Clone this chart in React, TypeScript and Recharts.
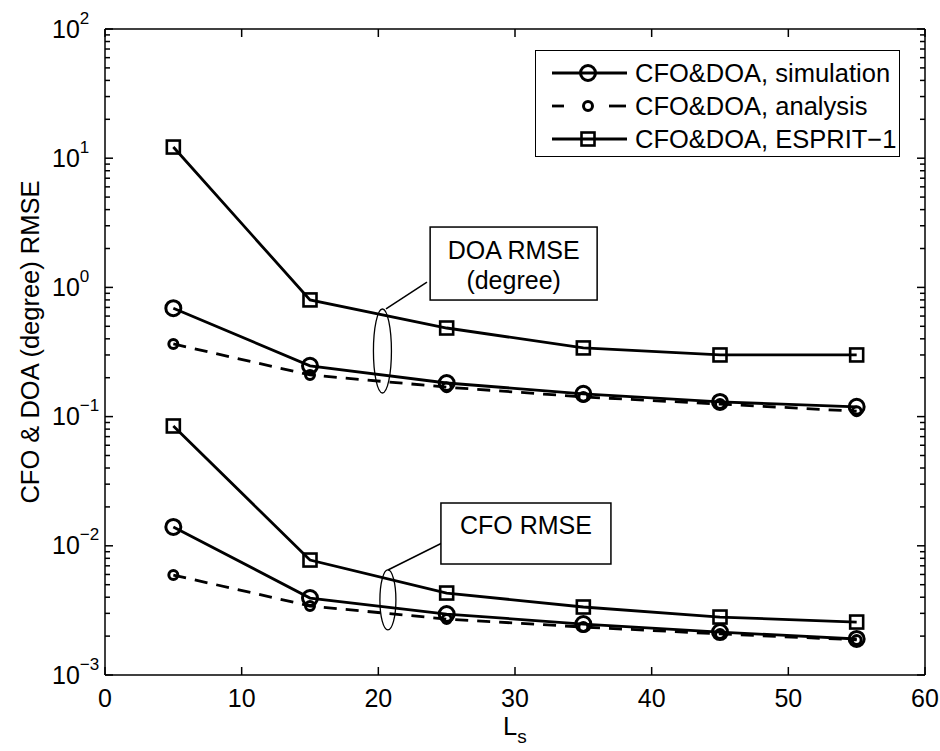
import { LineChart, Line, XAxis, YAxis, ReferenceDot, ReferenceLine } from "recharts";

// L_s values on the x axis
const LS = [5, 15, 25, 35, 45, 55];

// DOA RMSE (degree)
const DOA_SIM = [0.69, 0.247, 0.182, 0.15, 0.13, 0.119];
const DOA_ANA = [0.365, 0.21, 0.169, 0.142, 0.125, 0.11];
const DOA_ESPRIT = [12.2, 0.8, 0.485, 0.34, 0.3, 0.3];

// CFO RMSE
const CFO_SIM = [0.014, 0.00394, 0.00296, 0.00248, 0.00215, 0.0019];
const CFO_ANA = [0.00594, 0.00342, 0.00271, 0.00235, 0.00208, 0.00187];
const CFO_ESPRIT = [0.0846, 0.00776, 0.00431, 0.00336, 0.00281, 0.00257];

const X_TICKS = [0, 10, 20, 30, 40, 50, 60];
const Y_DECADES = [1e-3, 1e-2, 1e-1, 1, 10];
const Y_MINOR = [1, 2, 3, 4, 5, 6, 7, 8, 9];
const Y_TICKS = [...Y_DECADES.flatMap((d) => Y_MINOR.map((m) => d * m)), 100];

const LEGEND_LABELS = [
  "CFO&DOA, simulation",
  "CFO&DOA, analysis",
  "CFO&DOA, ESPRIT-1",
];

const FONT = "'Liberation Sans', Arial, Helvetica, sans-serif";
const INK = "#000";

const data = LS.map((ls, i) => ({
  ls,
  doaSim: DOA_SIM[i],
  doaAna: DOA_ANA[i],
  doaEsprit: DOA_ESPRIT[i],
  cfoSim: CFO_SIM[i],
  cfoAna: CFO_ANA[i],
  cfoEsprit: CFO_ESPRIT[i],
}));

type Marker = "big" | "small" | "square";

const SERIES: { key: string; marker: Marker; dashed: boolean }[] = [
  { key: "doaEsprit", marker: "square", dashed: false },
  { key: "doaAna", marker: "small", dashed: true },
  { key: "doaSim", marker: "big", dashed: false },
  { key: "cfoEsprit", marker: "square", dashed: false },
  { key: "cfoAna", marker: "small", dashed: true },
  { key: "cfoSim", marker: "big", dashed: false },
];

function drawMarker(kind: Marker, cx: number, cy: number, key?: any) {
  if (kind === "square") {
    return (
      <rect key={key} x={cx - 6.5} y={cy - 6.5} width={13} height={13} fill="none" stroke={INK} strokeWidth={2.6} />
    );
  }
  const r = kind === "big" ? 7.5 : 4.5;
  return <circle key={key} cx={cx} cy={cy} r={r} fill="none" stroke={INK} strokeWidth={3} />;
}

function isDecade(v: number) {
  const lg = Math.log10(v);
  return Math.abs(lg - Math.round(lg)) < 1e-6;
}

function YTick(props: any) {
  const { x, y, payload, side } = props;
  const v = payload.value as number;
  const major = isDecade(v);
  const dir = side === "left" ? 1 : -1;
  const len = major ? 8 : 5;
  const exp = Math.round(Math.log10(v));
  return (
    <g>
      <line x1={x} y1={y} x2={x + dir * len} y2={y} stroke={INK} strokeWidth={1.5} />
      {side === "left" && major && (
        <text x={x - 53} y={y + 8.5} fontSize={25} fontFamily={FONT} fill={INK}>
          10
          <tspan dy={-14} fontSize={17}>
            {exp < 0 ? "\u2212" + Math.abs(exp) : String(exp)}
          </tspan>
        </text>
      )}
    </g>
  );
}

function XTick(props: any) {
  const { x, y, payload, side } = props;
  const dir = side === "bottom" ? -1 : 1;
  return (
    <g>
      <line x1={x} y1={y} x2={x} y2={y + dir * 8} stroke={INK} strokeWidth={1.5} />
      {side === "bottom" && (
        <text x={x} y={y + 32} textAnchor="middle" fontSize={25} fontFamily={FONT} fill={INK}>
          {payload.value}
        </text>
      )}
    </g>
  );
}

function Ellipse(rx: number, ry: number) {
  return (p: any) => (
    <ellipse cx={p.cx} cy={p.cy} rx={rx} ry={ry} fill="none" stroke={INK} strokeWidth={1.3} />
  );
}

function NoteBox(w: number, h: number, lines: string[], firstDy: number) {
  return (p: any) => (
    <g>
      <rect x={p.cx - w / 2} y={p.cy - h / 2} width={w} height={h} fill="#fff" stroke={INK} strokeWidth={1.5} />
      {lines.map((t, i) => (
        <text
          key={t}
          x={p.cx}
          y={p.cy + firstDy + i * 30}
          textAnchor="middle"
          fontSize={25}
          fontFamily={FONT}
          fill={INK}
        >
          {t}
        </text>
      ))}
    </g>
  );
}

function Legend() {
  return (
    <div
      style={{
        position: "absolute",
        left: 535,
        top: 50,
        width: 365,
        height: 107,
        border: "1.5px solid #000",
        background: "#fff",
        boxSizing: "border-box",
      }}
    >
      <svg width={362} height={104}>
        {(["big", "small", "square"] as Marker[]).map((m, i) => {
          const cy = 22 + i * 33;
          return (
            <g key={m}>
              {m === "small" ? (
                <>
                  <line x1={16} y1={cy} x2={28} y2={cy} stroke={INK} strokeWidth={2.8} />
                  <line x1={73} y1={cy} x2={90} y2={cy} stroke={INK} strokeWidth={2.8} />
                </>
              ) : (
                <line x1={16} y1={cy} x2={91} y2={cy} stroke={INK} strokeWidth={2.8} />
              )}
              {drawMarker(m, 52, cy)}
              <text x={99} y={cy + 9} fontSize={25.5} fontFamily={FONT} fill={INK}>
                {LEGEND_LABELS[i].replace("-", "\u2212")}
              </text>
            </g>
          );
        })}
      </svg>
    </div>
  );
}

function AxisTitles() {
  return (
    <svg
      width={940}
      height={751}
      style={{ position: "absolute", left: 0, top: 0, pointerEvents: "none" }}
    >
      <text
        x={30}
        y={342}
        transform="rotate(-90 30 342)"
        textAnchor="middle"
        dominantBaseline="central"
        fontSize={25.5}
        fontFamily={FONT}
        fill={INK}
      >
        CFO &amp; DOA (degree) RMSE
      </text>
      <text x={503} y={735} fontSize={25.5} fontFamily={FONT} fill={INK}>
        L<tspan dy={8} fontSize={19}>s</tspan>
      </text>
    </svg>
  );
}

export default function App() {
  return (
    <div style={{ position: "absolute", left: 0, top: 0, width: 940, height: 751, background: "#fff" }}>
      <LineChart width={940} height={751} data={data} margin={{ top: 0, right: 0, bottom: 0, left: 0 }}>
        <XAxis
          dataKey="ls"
          type="number"
          domain={[0, 60]}
          ticks={X_TICKS}
          interval={0}
          height={76}
          tickSize={0}
          tickMargin={0}
          tickLine={false}
          axisLine={{ stroke: INK, strokeWidth: 1.5 }}
          tick={(p: any) => <XTick {...p} side="bottom" />}
        />
        <XAxis
          xAxisId="top"
          orientation="top"
          dataKey="ls"
          type="number"
          domain={[0, 60]}
          ticks={X_TICKS}
          interval={0}
          height={29}
          tickSize={0}
          tickMargin={0}
          tickLine={false}
          axisLine={{ stroke: INK, strokeWidth: 1.5 }}
          tick={(p: any) => <XTick {...p} side="top" />}
        />
        <YAxis
          scale="log"
          domain={[0.001, 100]}
          allowDataOverflow
          ticks={Y_TICKS}
          interval={0}
          width={105}
          tickSize={0}
          tickMargin={0}
          tickLine={false}
          axisLine={{ stroke: INK, strokeWidth: 1.5 }}
          tick={(p: any) => <YTick {...p} side="left" />}
        />
        <YAxis
          yAxisId="right"
          orientation="right"
          scale="log"
          domain={[0.001, 100]}
          allowDataOverflow
          ticks={Y_TICKS}
          interval={0}
          width={15}
          tickSize={0}
          tickMargin={0}
          tickLine={false}
          axisLine={{ stroke: INK, strokeWidth: 1.5 }}
          tick={(p: any) => <YTick {...p} side="right" />}
        />

        {SERIES.map((s) => (
          <Line
            key={s.key}
            dataKey={s.key}
            type="linear"
            stroke={INK}
            strokeWidth={2.8}
            strokeDasharray={s.dashed ? "13 9" : undefined}
            isAnimationActive={false}
            activeDot={false}
            dot={(p: any) => drawMarker(s.marker, p.cx, p.cy, p.index)}
          />
        ))}

        {/* DOA group annotation */}
        <ReferenceDot x={20.3} y={0.322} r={0} shape={Ellipse(9, 42)} />
        <ReferenceLine
          segment={[
            { x: 20.56, y: 0.681 },
            { x: 23.56, y: 1.1 },
          ]}
          stroke={INK}
          strokeWidth={1.5}
        />
        <ReferenceDot x={29.9} y={1.53} r={0} shape={NoteBox(167, 73, ["DOA RMSE", "(degree)"], -5)} />

        {/* CFO group annotation */}
        <ReferenceDot x={20.7} y={0.00381} r={0} shape={Ellipse(8, 30)} />
        <ReferenceLine
          segment={[
            { x: 20.7, y: 0.0065 },
            { x: 24.66, y: 0.01052 },
          ]}
          stroke={INK}
          strokeWidth={1.5}
        />
        <ReferenceDot x={30.8} y={0.01245} r={0} shape={NoteBox(170, 61, ["CFO RMSE"], 0)} />
      </LineChart>
      <AxisTitles />
      <Legend />
    </div>
  );
}
